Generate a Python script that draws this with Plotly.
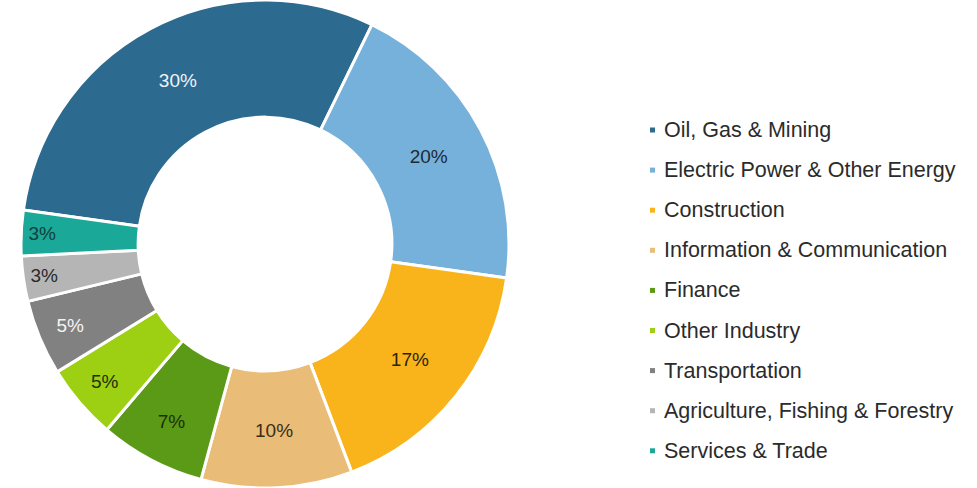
import plotly.graph_objects as go

categories = [
    "Oil, Gas & Mining",
    "Electric Power & Other Energy",
    "Construction",
    "Information & Communication",
    "Finance",
    "Other Industry",
    "Transportation",
    "Agriculture, Fishing & Forestry",
    "Services & Trade",
]
shares = [30, 20, 17, 10, 7, 5, 5, 3, 3]
colors = ["#2D6A8F", "#76B1DC", "#F9B41C", "#E9BC78", "#5A9A16",
          "#9DCF12", "#818181", "#B5B5B5", "#1AA898"]
label_colors = ["#EEF3F8", "#1E2A33", "#2A2410", "#3A2D18", "#1E3008",
                "#1E3008", "#F4F4F4", "#2A2A2A", "#123F3A"]

W, H = 977, 488
cx, r = 265, 244
FONT = "Liberation Sans, Arial, sans-serif"

fig = go.Figure()
fig.add_trace(go.Pie(
    labels=categories,
    values=shares,
    sort=False,
    direction="clockwise",
    rotation=-82,
    hole=0.52,
    marker=dict(colors=colors, line=dict(color="white", width=3)),
    texttemplate="%{value}%",
    textposition="inside",
    insidetextorientation="horizontal",
    textfont=dict(family=FONT, size=19, color=label_colors),
    hoverinfo="label+percent",
    showlegend=False,
    domain=dict(x=[(cx - r) / W, (cx + r) / W], y=[0, 1]),
))

# custom legend (small square markers, wide spacing)
row0, step = 130, 40.1
shapes, annotations = [], []
for i, (name, col) in enumerate(zip(categories, colors)):
    yc = row0 + i * step
    shapes.append(dict(type="rect", xref="paper", yref="paper",
                       x0=650 / W, x1=655 / W,
                       y0=1 - (yc + 2.5) / H, y1=1 - (yc - 2.5) / H,
                       fillcolor=col, line=dict(width=0)))
    annotations.append(dict(text=name, xref="paper", yref="paper",
                            x=662 / W, y=1 - yc / H, xanchor="left", yanchor="middle",
                            showarrow=False,
                            font=dict(family=FONT, size=21.5, color="#2B2B2B")))

fig.update_layout(
    width=W, height=H,
    margin=dict(l=0, r=0, t=0, b=0),
    paper_bgcolor="white",
    plot_bgcolor="white",
    uniformtext=dict(minsize=19, mode="show"),
    shapes=shapes,
    annotations=annotations,
)

fig.write_html("out.html", config={"displayModeBar": False},
               post_script="document.body.style.margin='0';")
